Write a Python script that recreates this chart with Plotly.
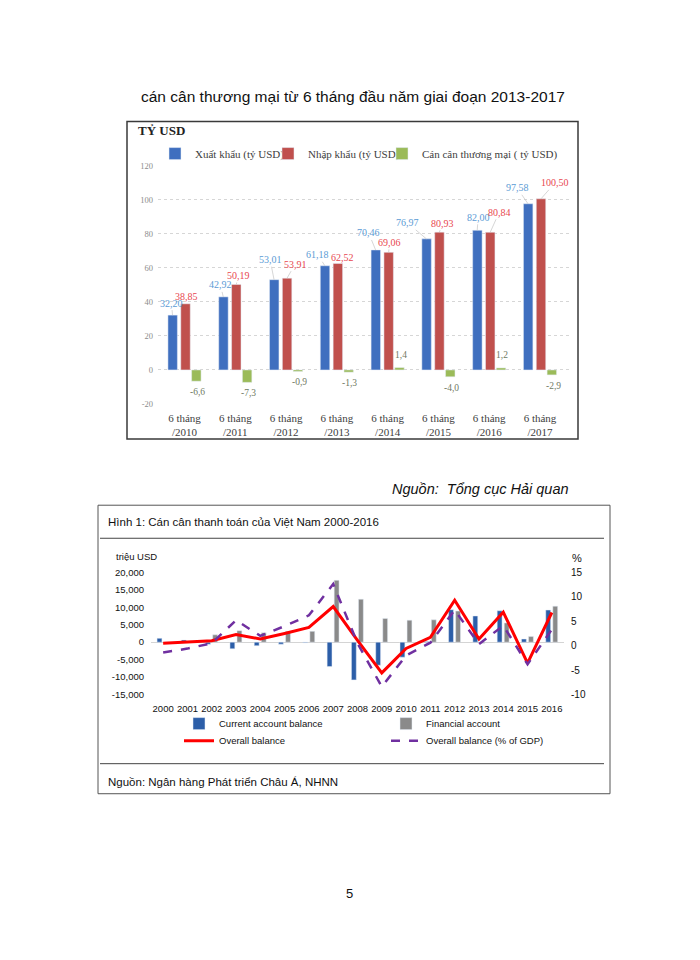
import plotly.graph_objects as go

# The page body keeps its default 8px margin, so the figure is sized to fit
# inside it.  Vertical placement is calibrated against the rendered page.
PAGE_W, PAGE_H, BODY_M = 700, 960, 8
W, H = PAGE_W - 2 * BODY_M, PAGE_H - 2 * BODY_M
Y_SCALE, Y_OFF = 0.9855, 6.8


def fx(x):
    return (x - BODY_M) / W


def fy(y):
    ys = (y - Y_OFF) / Y_SCALE
    return 1 - (ys - BODY_M) / H


# ---------------- Chart 1 data ----------------
periods = ["6 tháng<br>/2010", "6 tháng<br>/2011", "6 tháng<br>/2012", "6 tháng<br>/2013",
           "6 tháng<br>/2014", "6 tháng<br>/2015", "6 tháng<br>/2016", "6 tháng<br>/2017"]
exports = [32.20, 42.92, 53.01, 61.18, 70.46, 76.97, 82.00, 97.58]
imports = [38.85, 50.19, 53.91, 62.52, 69.06, 80.93, 80.84, 100.50]
trade_balance = [-6.6, -7.3, -0.9, -1.3, 1.4, -4.0, 1.2, -2.9]
y1_ticks = [-20, 0, 20, 40, 60, 80, 100, 120]

# label offsets (styling, px)
exp_dx = [-1, -3, -4, -7, -7, -19, 1, -11]
exp_dy = [-12, -12, -20, -11, -17, -16, -13, -16]
imp_dx = [1, 2, 8, 5, 1, 3, 9, 14]
imp_dy = [-7, -9, -14, -6, -10, -9, -20, -16]

# ---------------- Chart 2 data ----------------
years = list(range(2000, 2017))
current_account = [1100, 600, -600, -1900, -1000, -560, -160, -7000, -10800, -6600,
                   -4300, 200, 9300, 7500, 9000, 900, 9200]
financial_account = [-100, 100, 2100, 3300, 2700, 3100, 3100, 17700, 12300, 6800,
                     6300, 6400, 8900, -300, 5500, 1600, 10300]
overall_balance = [-300, 100, 400, 2200, 900, 2500, 4200, 10200, 500, -8800,
                   -1800, 1400, 12000, 900, 8600, -6000, 8500]
overall_pct_gdp = [-1.4, -0.6, 0.5, 5.2, 2.0, 4.0, 6.2, 12.6, 0.5, -8.4,
                   -2.0, 0.6, 7.3, 0.3, 4.1, -3.8, 3.3]
y2_ticks = [-15000, -10000, -5000, 0, 5000, 10000, 15000, 20000]
y3_ticks = [-10, -5, 0, 5, 10, 15]

SERIF = "Liberation Serif, DejaVu Serif, serif"
SANS = "Liberation Sans, Arial, sans-serif"

C_BLUE = "#3F6FBF"
C_RED = "#C0504D"
C_GREEN = "#9BBB59"

fig = go.Figure()

# ---- chart 1 bars ----
bw = 0.186
fig.add_trace(go.Bar(x=periods, y=exports, name="Xuất khẩu (tỷ USD)", marker_color=C_BLUE,
                     width=bw, offset=-0.233 - bw / 2, xaxis="x", yaxis="y", legend="legend"))
fig.add_trace(go.Bar(x=periods, y=imports, name="Nhập khẩu (tỷ USD)", marker_color=C_RED,
                     width=bw, offset=0.02 - bw / 2, xaxis="x", yaxis="y", legend="legend2"))
fig.add_trace(go.Bar(x=periods, y=trade_balance, name="Cán cân thương mại ( tỷ USD)",
                     marker_color=C_GREEN, width=bw, offset=0.233 - bw / 2,
                     xaxis="x", yaxis="y", legend="legend3"))

# ---- chart 2 bars & lines ----
fig.add_trace(go.Bar(x=years, y=current_account, name="Current account balance",
                     marker_color="#2C5EA8", width=0.2, offset=-0.25,
                     xaxis="x2", yaxis="y2", legend="legend4"))
fig.add_trace(go.Bar(x=years, y=financial_account, name="Financial account",
                     marker_color="#8A8A8A", width=0.2, offset=0.04,
                     xaxis="x2", yaxis="y2", legend="legend5"))
fig.add_trace(go.Scatter(x=years, y=overall_balance, name="Overall balance", mode="lines",
                         line=dict(color="#FF0000", width=3), xaxis="x2", yaxis="y2",
                         legend="legend6"))
fig.add_trace(go.Scatter(x=years, y=overall_pct_gdp, name="Overall balance (% of GDP)",
                         mode="lines", line=dict(color="#7030A0", width=2.5, dash="dash"),
                         xaxis="x2", yaxis="y3", legend="legend7"))

annotations = []


def fmt2(v):
    return f"{v:.2f}".replace(".", ",")


def fmt1(v):
    return f"{v:.1f}".replace(".", ",")


for i, p in enumerate(periods):
    annotations.append(dict(x=p, y=exports[i], xref="x", yref="y", text=fmt2(exports[i]),
                            showarrow=True, arrowhead=0, arrowwidth=0.7, arrowcolor="#c4c4c4",
                            ax=exp_dx[i], ay=exp_dy[i], xshift=-12, standoff=0,
                            font=dict(family=SERIF, size=10, color="#5B9BD5")))
    annotations.append(dict(x=p, y=imports[i], xref="x", yref="y", text=fmt2(imports[i]),
                            showarrow=True, arrowhead=0, arrowwidth=0.7, arrowcolor="#c4c4c4",
                            ax=imp_dx[i], ay=imp_dy[i], xshift=1, standoff=0,
                            font=dict(family=SERIF, size=10, color="#E8474F")))
    v = trade_balance[i]
    annotations.append(dict(x=p, y=v, xref="x", yref="y", text=fmt1(v), showarrow=False,
                            xshift=13, yshift=(-11 if v < 0 else 13),
                            xanchor="center", yanchor="middle",
                            font=dict(family=SERIF, size=9.5, color="#6F7A63")))


def txt(x, y, text, size, family=SANS, xanchor="left", color="#111"):
    return dict(x=fx(x), y=fy(y), xref="paper", yref="paper", showarrow=False,
                xanchor=xanchor, yanchor="middle", text=text,
                font=dict(family=family, size=size, color=color))


annotations += [
    txt(353, 97, "cán cân thương mại từ 6 tháng đầu năm giai đoạn 2013-2017", 15.5, xanchor="center"),
    txt(136, 131, "<b>TỶ USD</b>", 13, family=SERIF, color="#222"),
    txt(390, 489, "<i>Nguồn:  Tổng cục Hải quan</i>", 14.5),
    txt(106, 522, "Hình 1: Cán cân thanh toán của Việt Nam 2000-2016", 11.5),
    txt(114, 556, "triệu USD", 9.5),
    txt(570, 558, "%", 11),
    txt(106, 781, "Nguồn: Ngân hàng Phát triển Châu Á, NHNN", 11.5),
    txt(349, 893, "5", 13, xanchor="center"),
]

shapes = [
    dict(type="rect", xref="paper", yref="paper", x0=fx(127), x1=fx(578), y0=fy(439), y1=fy(122),
         line=dict(color="#3a3a3a", width=1.5)),
    dict(type="rect", xref="paper", yref="paper", x0=fx(98), x1=fx(610), y0=fy(793), y1=fy(505),
         line=dict(color="#555", width=1)),
    dict(type="line", xref="paper", yref="paper", x0=fx(100), x1=fx(604), y0=fy(538), y1=fy(538),
         line=dict(color="#444", width=1)),
    dict(type="line", xref="paper", yref="paper", x0=fx(100), x1=fx(604), y0=fy(763), y1=fy(763),
         line=dict(color="#444", width=1)),
    dict(type="line", xref="paper", yref="paper", x0=fx(25), x1=fx(680), y0=fy(955), y1=fy(955),
         line=dict(color="#e2e2e2", width=1, dash="dot")),
]


def leg(x, y, size, family, color):
    return dict(x=fx(x), y=fy(y), xref="paper", yref="paper", xanchor="left", yanchor="middle",
                orientation="h", bgcolor="rgba(0,0,0,0)", borderwidth=0,
                font=dict(family=family, size=size, color=color), itemclick=False)


layout = dict(
    width=W, height=H, autosize=False,
    margin=dict(l=0, r=0, t=0, b=0),
    paper_bgcolor="white", plot_bgcolor="rgba(0,0,0,0)",
    barmode="overlay", showlegend=True,
    annotations=annotations, shapes=shapes,
    xaxis=dict(domain=[fx(158), fx(571)], anchor="y", type="category",
               tickfont=dict(family=SERIF, size=11, color="#404040"),
               showgrid=False, zeroline=False, showline=False, ticks="",
               ticklabelstandoff=6),
    yaxis=dict(domain=[fy(404), fy(166)], anchor="x", range=[-20, 120],
               tickvals=y1_ticks, ticktext=[str(t) for t in y1_ticks],
               tickfont=dict(family=SERIF, size=8.5, color="#8c8c8c"),
               showgrid=True, gridcolor="#d6d6d6", griddash="dot", gridwidth=1,
               zeroline=False, showline=False, ticks="", ticklabelstandoff=4),
    xaxis2=dict(domain=[fx(151), fx(564)], anchor="y2", range=[1999.5, 2016.5],
                tickvals=years, ticktext=[str(y) for y in years],
                tickfont=dict(family=SANS, size=9.5, color="#111"),
                showgrid=False, zeroline=False, showline=False, ticks="",
                ticklabelstandoff=7),
    yaxis2=dict(domain=[fy(694), fy(572)], anchor="x2", range=[-15000, 20000],
                tickvals=y2_ticks, ticktext=[f"{t:,}" for t in y2_ticks],
                tickfont=dict(family=SANS, size=9.5, color="#111"),
                showgrid=False, zeroline=True, zerolinecolor="#d4d4d4", zerolinewidth=1,
                showline=False, ticks="", ticklabelstandoff=6),
    yaxis3=dict(overlaying="y2", side="right", anchor="x2", range=[-10, 15],
                tickvals=y3_ticks, ticktext=[str(t) for t in y3_ticks],
                tickfont=dict(family=SANS, size=10, color="#111"),
                showgrid=False, zeroline=False, showline=False, ticks="",
                ticklabelstandoff=6),
    legend=leg(155, 154, 11, SERIF, "#404040"),
    legend2=leg(268, 154, 11, SERIF, "#404040"),
    legend3=leg(382, 154, 11, SERIF, "#404040"),
    legend4=leg(179, 723, 9.5, SANS, "#111"),
    legend5=leg(386, 723, 9.5, SANS, "#111"),
    legend6=leg(179, 740, 9.5, SANS, "#111"),
    legend7=leg(386, 740, 9.5, SANS, "#111"),
)

fig.update_layout(**layout)
fig.write_html("out.html")
